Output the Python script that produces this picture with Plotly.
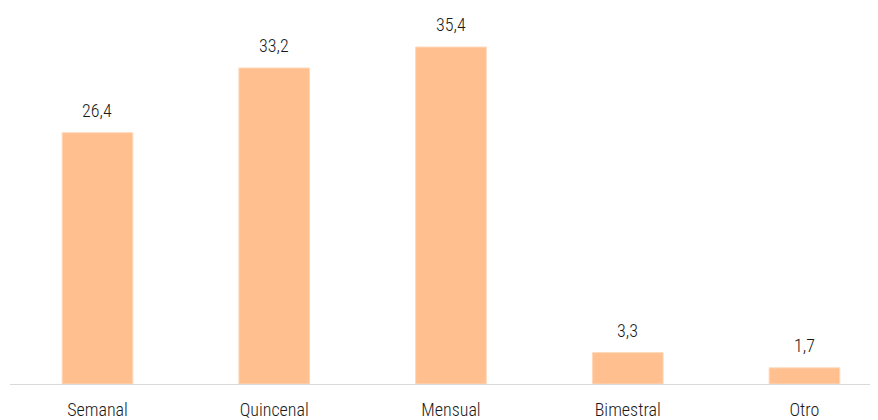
import plotly.graph_objects as go

categories = ["Semanal", "Quincenal", "Mensual", "Bimestral", "Otro"]
values = [26.4, 33.2, 35.4, 3.3, 1.7]
labels = ["26,4", "33,2", "35,4", "3,3", "1,7"]

FONT = "Liberation Sans Narrow, Arial Narrow, Roboto Condensed, DejaVu Sans Condensed, sans-serif"

fig = go.Figure(go.Bar(
    x=categories, y=values, width=0.4,
    marker=dict(color="#FFBF8E", line=dict(color="#FFD9BC", width=1)),
    hoverinfo="skip",
))

for c, v, t in zip(categories, values, labels):
    fig.add_annotation(x=c, y=v, text=t, showarrow=False, yanchor="bottom",
                       yshift=10, font=dict(family=FONT, size=18, color="#1a1a1a", weight=300))

fig.update_layout(
    width=870, height=412,
    margin=dict(l=2, r=0, t=0, b=36),
    paper_bgcolor="white", plot_bgcolor="white",
    showlegend=False,
    font=dict(family=FONT, size=18, color="#1a1a1a"),
    xaxis=dict(range=[-0.495, 4.416], showline=True, linecolor="#d9d9d9", linewidth=1,
               showgrid=False, ticks="", ticklabelstandoff=9,
               tickfont=dict(family=FONT, size=18, color="#1a1a1a", weight=300)),
    yaxis=dict(range=[0, 39.5], visible=False, showgrid=False, zeroline=False),
)

fig.write_html("out.html")
